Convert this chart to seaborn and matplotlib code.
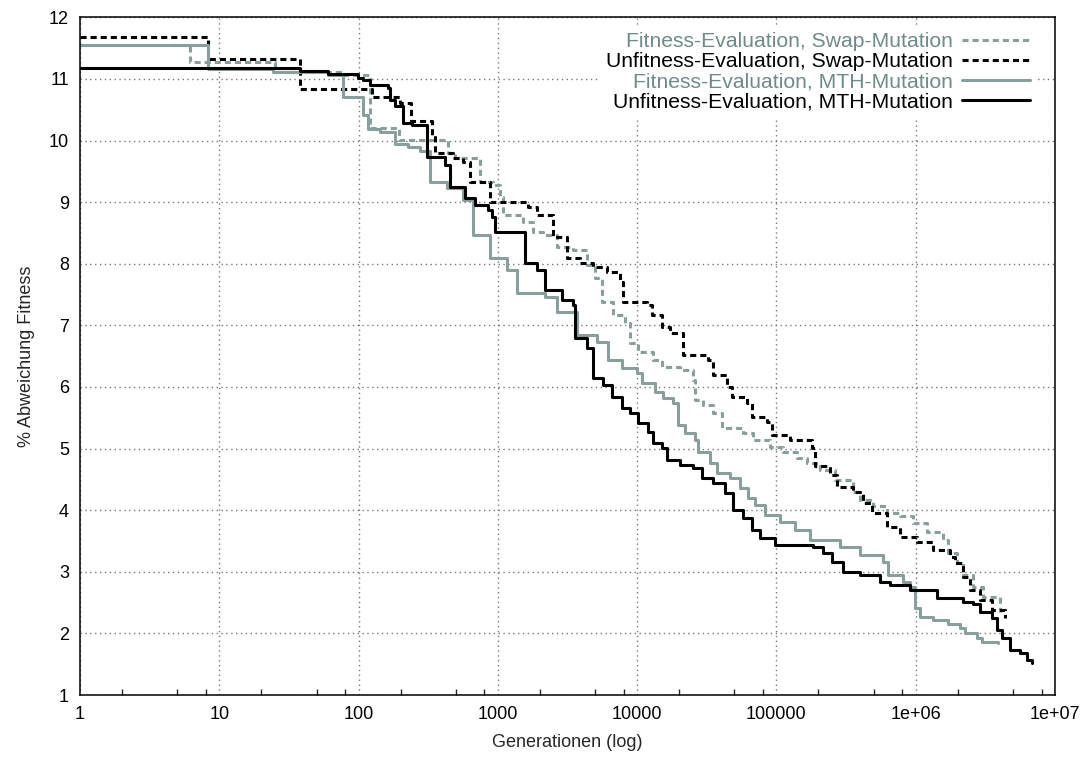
import numpy as np
import pandas as pd
import matplotlib
matplotlib.use("Agg")
import matplotlib.pyplot as plt
import seaborn as sns
from matplotlib.ticker import FixedLocator, FixedFormatter, NullFormatter

# ---------------- data ----------------
labels = [
    "Fitness-Evaluation, Swap-Mutation",
    "Unfitness-Evaluation, Swap-Mutation",
    "Fitness-Evaluation, MTH-Mutation",
    "Unfitness-Evaluation, MTH-Mutation",
]

# Fitness-Evaluation, Swap-Mutation
fs_gen = [1, 6.2, 25.1, 77.3, 120.7, 195, 438, 492, 744, 922, 1035, 1089, 1514, 1786, 2108,
          2656, 3459, 4363, 4977, 5590, 6700, 8170, 8880, 10140, 12980, 15060, 20280, 25160,
          26000, 29650, 35000, 40640, 57540, 67770, 89740, 111400, 140300, 165600, 205100,
          263000, 354000, 397200, 493200, 621200, 770900, 955000, 1202000, 1567000, 1702000,
          1977000, 2183000, 2577000, 3036000, 4018000]
fs_val = [11.55, 11.28, 11.12, 11.06, 10.20, 10.01, 9.80, 9.72, 9.33, 9.28, 9.08, 8.79, 8.68,
          8.51, 8.47, 8.27, 8.22, 7.98, 7.77, 7.38, 7.17, 7.04, 6.71, 6.57, 6.44, 6.33, 6.27,
          6.11, 5.79, 5.71, 5.58, 5.34, 5.25, 5.14, 5.03, 4.95, 4.85, 4.77, 4.65, 4.49, 4.30,
          4.17, 4.06, 3.96, 3.90, 3.79, 3.64, 3.52, 3.31, 3.15, 2.95, 2.75, 2.59, 2.35]

# Unfitness-Evaluation, Swap-Mutation
us_gen = [1, 8.3, 37.9, 124.8, 198, 238, 336, 353, 476, 561, 631, 877, 1644, 1909, 2488, 3133,
          3882, 4819, 6067, 7530, 7910, 11750, 12760, 15060, 17180, 21320, 32210, 35000, 44150,
          47970, 61440, 66710, 85440, 92860, 125000, 179900, 188800, 242100, 271600, 354000,
          417800, 485300, 621200, 770900, 1021000, 1327000, 1758000, 1910000, 2183000, 2449000,
          2891000, 3524000, 4365000]
us_val = [11.68, 11.33, 10.83, 10.70, 10.61, 10.31, 10.09, 9.80, 9.72, 9.65, 9.33, 9.00, 8.92,
          8.79, 8.43, 8.09, 8.01, 7.95, 7.87, 7.71, 7.38, 7.33, 7.17, 6.97, 6.87, 6.52, 6.44,
          6.19, 6.00, 5.84, 5.74, 5.51, 5.43, 5.22, 5.14, 5.01, 4.71, 4.57, 4.38, 4.30, 4.12,
          3.96, 3.73, 3.57, 3.48, 3.35, 3.24, 3.14, 2.92, 2.71, 2.54, 2.38, 2.25]

# Fitness-Evaluation, MTH-Mutation
fm_gen = [1, 8.3, 24.3, 60, 77.3, 107.6, 116.8, 142.5, 182.5, 226, 276, 326, 431, 561, 662, 877,
          1162, 1371, 2178, 2656, 3697, 5145, 6170, 7780, 9970, 10820, 13420, 15310, 18070,
          19640, 22030, 26000, 27310, 33340, 37410, 46380, 54700, 62370, 70100, 82660, 105900,
          135800, 174100, 285800, 397200, 581800, 631000, 809100, 907800, 986500, 1072000,
          1327000, 1702000, 2075000, 2254000, 2748000, 2985000, 3890000]
fm_val = [11.55, 11.16, 11.12, 11.06, 10.71, 10.41, 10.19, 10.14, 9.95, 9.90, 9.83, 9.33, 9.23,
          9.03, 8.47, 8.09, 7.90, 7.52, 7.46, 7.22, 6.85, 6.73, 6.43, 6.30, 6.22, 6.07, 5.92,
          5.82, 5.74, 5.38, 5.25, 5.14, 4.95, 4.77, 4.60, 4.52, 4.36, 4.20, 4.08, 3.92, 3.81,
          3.68, 3.52, 3.40, 3.27, 3.16, 2.95, 2.83, 2.75, 2.41, 2.26, 2.21, 2.16, 2.09, 2.01,
          1.93, 1.86, 1.84]

# Unfitness-Evaluation, MTH-Mutation
um_gen = [1, 38, 60, 99, 108, 121, 163, 168, 183, 208, 242, 310, 417, 453, 581, 685, 849, 907,
          953, 1566, 1909, 2178, 2884, 3459, 3574, 4363, 4819, 5680, 6590, 7780, 8880, 10140,
          11970, 12980, 15060, 16370, 20280, 25160, 29190, 35000, 42660, 48750, 57540, 66710,
          76200, 97500, 182800, 215800, 250000, 299900, 397200, 553300, 653100, 907800,
          1419000, 2183000, 2577000, 2891000, 3524000, 3829000, 4157000, 4746000, 5598000,
          6281000, 6826000]
um_val = [11.18, 11.13, 11.08, 11.01, 10.98, 10.90, 10.85, 10.66, 10.56, 10.28, 10.25, 9.73,
          9.60, 9.25, 9.07, 8.95, 8.87, 8.76, 8.51, 8.01, 7.90, 7.57, 7.41, 7.33, 6.79, 6.63,
          6.14, 6.03, 5.83, 5.66, 5.58, 5.41, 5.27, 5.09, 5.01, 4.81, 4.73, 4.68, 4.52, 4.44,
          4.28, 4.00, 3.87, 3.68, 3.55, 3.44, 3.40, 3.31, 3.16, 3.00, 2.95, 2.84, 2.79, 2.71,
          2.58, 2.51, 2.47, 2.35, 2.25, 2.06, 1.93, 1.73, 1.68, 1.57, 1.52]

x_ticks = [1, 10, 100, 1000, 10000, 100000, 1e6, 1e7]
x_tick_labels = ["1", "10", "100", "1000", "10000", "100000", "1e+06", "1e+07"]
y_ticks = list(range(1, 13))

# ---------------- style ----------------
sns.set_style("white")
plt.rcParams['font.family'] = ['Liberation Sans', 'DejaVu Sans']
FS = 13
LFS = 15.2

GRAY = "#8a9e9e"
series = [
    (fs_gen, fs_val, labels[0], GRAY, (0, (2.0, 1.3))),
    (us_gen, us_val, labels[1], "black", (0, (2.0, 1.3))),
    (fm_gen, fm_val, labels[2], GRAY, "-"),
    (um_gen, um_val, labels[3], "black", "-"),
]

fig = plt.figure(figsize=(10.87, 7.58), dpi=100)
ax = fig.add_axes([80 / 1087, 1 - 695 / 758, (1055 - 80) / 1087, (695 - 17.3) / 758])

for gen, val, lab, col, ls in series:
    df = pd.DataFrame({"gen": gen, "val": val})
    sns.lineplot(data=df, x="gen", y="val", ax=ax, color=col, linestyle=ls,
                 linewidth=2.2, drawstyle="steps-post", estimator=None, sort=False,
                 label=lab)

ax.set_xscale("log")
ax.set_xlim(1, 1e7)
ax.set_ylim(1, 12)

ax.xaxis.set_major_locator(FixedLocator(x_ticks))
ax.xaxis.set_major_formatter(FixedFormatter(x_tick_labels))
minor = [m * 10 ** d for d in range(7) for m in (2, 5, 8)]
ax.xaxis.set_minor_locator(FixedLocator(minor))
ax.xaxis.set_minor_formatter(NullFormatter())
ax.set_yticks(y_ticks)
ax.set_yticklabels([str(v) for v in y_ticks])

ax.tick_params(axis="both", which="major", direction="in", length=7, width=1,
               labelsize=FS, colors="black", pad=8)
ax.tick_params(axis="x", which="minor", direction="in", length=4, width=1, bottom=True)
ax.tick_params(axis="both", which="both", top=False, right=False)

ax.grid(True, which="major", color="#777777", linestyle=(0, (1, 2.5)), linewidth=1.0)
for s in ax.spines.values():
    s.set_visible(True)
    s.set_color("black")
    s.set_linewidth(1.1)

ax.set_xlabel("Generationen (log)", fontsize=FS, labelpad=8)
ax.set_ylabel("% Abweichung Fitness", fontsize=FS, labelpad=10)

leg = ax.legend(loc="upper right", bbox_to_anchor=(0.9805, 0.9871), fontsize=LFS,
                markerfirst=False, frameon=True, fancybox=False, edgecolor="none",
                facecolor="white", framealpha=1.0, handlelength=3.2, handletextpad=0.45,
                labelspacing=0.05, borderaxespad=0.0, borderpad=0.3)
for t, c in zip(leg.get_texts(), ["#6f8a8a", "black", "#6f8a8a", "black"]):
    t.set_color(c)

fig.savefig("out.png", dpi=100)
